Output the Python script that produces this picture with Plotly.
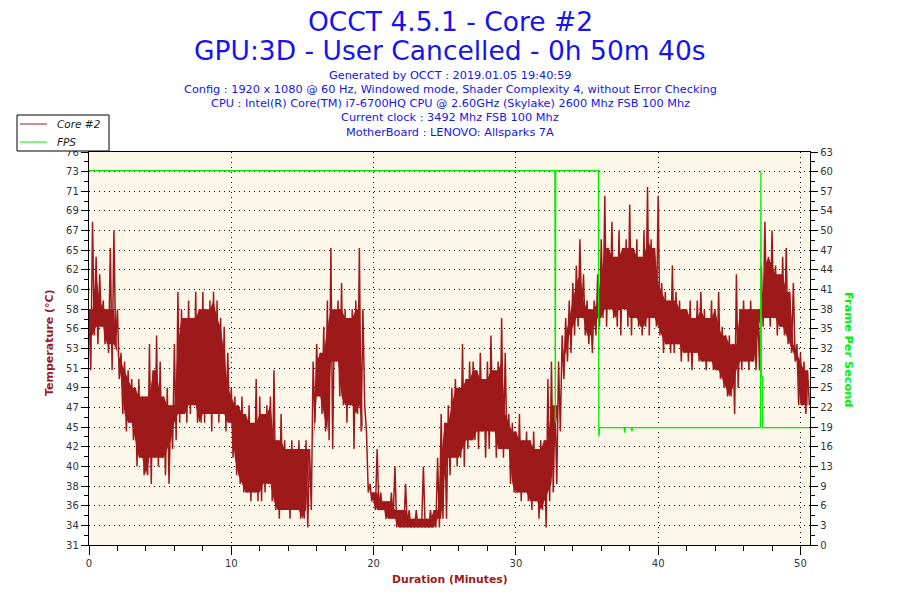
import plotly.graph_objects as go

# ---------------- data ----------------
temp_step = 0.25
temp_hi = [
    58, 68, 64, 62,  59, 58, 65, 67,  58, 53, 52, 51,  50, 49, 50, 48,
    48, 54, 51, 55,  52, 48, 49, 47,  54, 60, 58, 57,  59, 57, 60, 58,
    60, 58, 59, 60,  59, 57, 56, 53,  49, 48, 47, 48,  46, 47, 45, 50,
    48, 46, 47, 48,  51, 43, 46, 43,  42, 43, 42, 43,  42, 43, 42, 52,
    54, 53, 56, 59,  65, 58, 59, 61,  58, 57, 58, 59,  65, 58, 44, 38,
    37, 42, 37, 36,  36, 37, 40, 35,  35, 38, 35, 34,  35, 34, 40, 34,
    35, 35, 41, 46,  45, 47, 49, 50,  49, 54, 50, 52,  52, 51, 53, 50,
    52, 55, 51, 52,  57, 53, 46, 45,  44, 46, 43, 44,  43, 44, 42, 43,
    43, 50, 52, 47,  52, 55, 57, 59,  61, 63, 66, 62,  59, 58, 59, 62,
    66, 71, 65, 68,  64, 67, 65, 66,  70, 65, 66, 64,  67, 72, 66, 65,
    71, 61, 60, 59,  63, 60, 59, 58,  58, 59, 57, 59,  60, 58, 57, 59,
    58, 60, 56, 55,  55, 54, 62, 58,  59, 58, 59, 58,  58, 63, 68, 64,
    67, 63, 62, 64,  65, 60, 61, 54,  53, 52, 51,
]
temp_lo = [
    51, 55, 54, 56,  54, 53, 51, 54,  50, 46, 44, 45,  43, 40, 41, 39,
    39, 38, 41, 40,  41, 39, 38, 42,  43, 45, 46, 45,  46, 47, 45, 45,
    45, 46, 44, 46,  45, 46, 44, 45,  41, 39, 38, 37,  37, 36, 37, 36,
    36, 37, 38, 36,  35, 34, 35, 35,  34, 35, 35, 34,  34, 33, 35, 45,
    48, 46, 44, 43,  42, 52, 48, 47,  45, 47, 42, 46,  44, 47, 37, 36,
    35, 35, 35, 34,  34, 34, 33, 33,  33, 33, 33, 33,  33, 33, 33, 33,
    33, 33, 33, 34,  34, 39, 41, 40,  41, 40, 42, 43,  43, 42, 44, 41,
    42, 44, 41, 42,  41, 42, 38, 37,  37, 36, 37, 36,  35, 36, 34, 35,
    33, 36, 37, 38,  44, 50, 52, 53,  55, 56, 57, 55,  54, 53, 55, 56,
    57, 56, 58, 57,  56, 55, 58, 56,  55, 57, 56, 55,  56, 55, 57, 56,
    55, 53, 54, 53,  53, 54, 52, 53,  52, 51, 53, 52,  52, 51, 52, 51,
    51, 50, 49, 48,  48, 46, 49, 51,  52, 51, 52, 51,  51, 56, 57, 56,
    57, 55, 56, 55,  54, 53, 52, 47,  47, 46, 47,
]

# FPS (frames per second)
fps_time = [0, 32.74, 32.77, 32.80, 35.80, 35.83, 35.90, 37.6, 37.65, 37.7,
            38.1, 38.15, 38.2, 47.19, 47.22, 47.25, 47.32, 47.34, 50.6]
fps_value = [60, 60, 19.6, 60, 60, 17.4, 18.8, 18.8, 18.0, 18.8,
             18.8, 18.2, 18.8, 18.8, 60, 27, 27, 18.8, 18.8]

temp_tick_labels = ["31", "34", "36", "38", "40", "42", "45", "47", "49", "51", "53",
                    "56", "58", "60", "62", "65", "67", "69", "71", "73", "76"]
fps_tick_labels = ["0", "3", "6", "9", "13", "16", "19", "22", "25", "28", "32",
                   "35", "38", "41", "44", "47", "50", "54", "57", "60", "63"]
x_tick_vals = [0, 10, 20, 30, 40, 50]

title_lines = ["OCCT 4.5.1 - Core #2", "GPU:3D - User Cancelled - 0h 50m 40s"]
info_lines = [
    "Generated by OCCT : 2019.01.05 19:40:59",
    "Config : 1920 x 1080 @ 60 Hz, Windowed mode, Shader Complexity 4, without Error Checking",
    "CPU : Intel(R) Core(TM) i7-6700HQ CPU @ 2.60GHz (Skylake) 2600 Mhz FSB 100 Mhz",
    "Current clock : 3492 Mhz FSB 100 Mhz",
    "MotherBoard : LENOVO: Allsparks 7A",
]
legend_names = ["Core #2", "FPS"]

# ---------------- build traces ----------------
n = len(temp_hi)
times = [i * temp_step for i in range(n)]
tx, ty = [], []
for t, h, l in zip(times, temp_hi, temp_lo):
    tx += [t, t + temp_step / 2]
    ty += [h, l]

# solid core of the noisy band: local envelope of neighbouring samples
core_top = [min(temp_hi[max(0, i - 1):i + 2]) for i in range(n)]
core_bot = [max(temp_lo[max(0, i - 1):i + 2]) for i in range(n)]
core_bot = [min(b, t) for b, t in zip(core_bot, core_top)]

T_MIN, T_MAX = 31, 76
F_MIN, F_MAX = 0, 63
n_int = len(temp_tick_labels) - 1
t_vals = [T_MIN + (T_MAX - T_MIN) * k / n_int for k in range(n_int + 1)]
f_vals = [F_MIN + (F_MAX - F_MIN) * k / n_int for k in range(n_int + 1)]

RED = "#9E1A1A"
GREEN = "#00F000"
BLUE = "#1414F0"
FONT = "DejaVu Sans"

W, H = 900, 600
PL, PT, PR, PB = 89, 152, 810, 545   # plot area in window pixels
ML, MT, MR, MB = PL, PT, W - PR, H - PB
PW, PH = PR - PL, PB - PT


def px(xw):
    return (xw - PL) / PW


def py(yw):
    return (PB - yw) / PH


fig = go.Figure()
fig.add_trace(go.Scatter(x=times, y=core_top, mode="lines", line=dict(width=0, color=RED),
                         showlegend=False, hoverinfo="skip"))
fig.add_trace(go.Scatter(x=times, y=core_bot, mode="lines", line=dict(width=0, color=RED),
                         fill="tonexty", fillcolor=RED, showlegend=False, hoverinfo="skip"))
fig.add_trace(go.Scatter(x=tx, y=ty, mode="lines", name=legend_names[0],
                         line=dict(color=RED, width=1.5), yaxis="y", showlegend=False))
fig.add_trace(go.Scatter(x=fps_time, y=fps_value, mode="lines", name=legend_names[1],
                         line=dict(color=GREEN, width=1.3), yaxis="y2", showlegend=False))

axis_common = dict(showline=True, linecolor="black", linewidth=1.3,
                   tickfont=dict(family=FONT, size=10, color="#333333"),
                   ticks="outside", tickcolor="black", zeroline=False)

fig.update_layout(
    width=W, height=H,
    margin=dict(l=ML, r=MR, t=MT, b=MB, pad=0),
    paper_bgcolor="white", plot_bgcolor="#FDF7EA",
    font=dict(family=FONT),
    showlegend=False,
    xaxis=dict(range=[0, 50.67], tickvals=x_tick_vals, mirror=True,
               ticklen=9, showgrid=True, gridcolor="black", griddash="1px,4px", gridwidth=1,
               minor=dict(dtick=2, tick0=0, ticks="outside", ticklen=5, tickcolor="black",
                          showgrid=False),
               **axis_common),
    yaxis=dict(range=[T_MIN, T_MAX], tickvals=t_vals, ticktext=temp_tick_labels,
               ticklen=7, showgrid=True, gridcolor="black", griddash="1px,4px", gridwidth=1,
               minor=dict(tickvals=[(a + b) / 2 for a, b in zip(t_vals[:-1], t_vals[1:])],
                          ticks="outside", ticklen=4, tickcolor="black", showgrid=False),
               **axis_common),
    yaxis2=dict(range=[F_MIN, F_MAX], tickvals=f_vals, ticktext=fps_tick_labels,
                overlaying="y", side="right", ticklen=7, showgrid=False,
                minor=dict(tickvals=[(a + b) / 2 for a, b in zip(f_vals[:-1], f_vals[1:])],
                           ticks="outside", ticklen=4, tickcolor="black", showgrid=False),
                **axis_common),
)

ann = []
for i, line in enumerate(title_lines):
    ann.append(dict(text=line, xref="paper", yref="paper", x=px(450),
                    y=py(21 + 30 * i), xanchor="center", yanchor="middle",
                    showarrow=False, font=dict(family=FONT, size=26.5, color=BLUE)))
for i, line in enumerate(info_lines):
    ann.append(dict(text=line, xref="paper", yref="paper", x=px(450),
                    y=py(75 + 14.3 * i), xanchor="center", yanchor="middle",
                    showarrow=False, font=dict(family=FONT, size=11.3, color=BLUE)))
ann.append(dict(text="<b>Temperature (°C)</b>", xref="paper", yref="paper",
                x=px(49), y=py(343), textangle=-90, showarrow=False,
                xanchor="center", yanchor="middle",
                font=dict(family=FONT, size=11, color=RED)))
ann.append(dict(text="<b>Frame Per Second</b>", xref="paper", yref="paper",
                x=px(849), y=py(349), textangle=90, showarrow=False,
                xanchor="center", yanchor="middle",
                font=dict(family=FONT, size=11.3, color=GREEN)))
ann.append(dict(text="<b>Duration (Minutes)</b>", xref="paper", yref="paper",
                x=px(450), y=py(579), showarrow=False,
                xanchor="center", yanchor="middle",
                font=dict(family=FONT, size=10.8, color=RED)))

# hand-drawn legend box (matches the compact original)
shapes = [dict(type="rect", xref="paper", yref="paper", x0=px(17), x1=px(109),
               y0=py(151), y1=py(115), fillcolor="white",
               line=dict(color="black", width=1), layer="above")]
for i, (name, col) in enumerate(zip(legend_names, [RED, GREEN])):
    yy = 124 + 18 * i
    shapes.append(dict(type="line", xref="paper", yref="paper", x0=px(20), x1=px(47),
                       y0=py(yy), y1=py(yy), line=dict(color=col, width=1), layer="above"))
    ann.append(dict(text="<i>" + name + "</i>", xref="paper", yref="paper", x=px(55),
                    y=py(yy), xanchor="left", yanchor="middle", showarrow=False,
                    font=dict(family=FONT, size=10.5, color="#222222")))

fig.update_layout(annotations=ann, shapes=shapes)

# remove the default 8px page margin so the 900x600 figure fills the window
fig.write_html("out.html", config={"displayModeBar": False},
               post_script="document.body.style.margin='0';document.body.style.overflow='hidden';")
